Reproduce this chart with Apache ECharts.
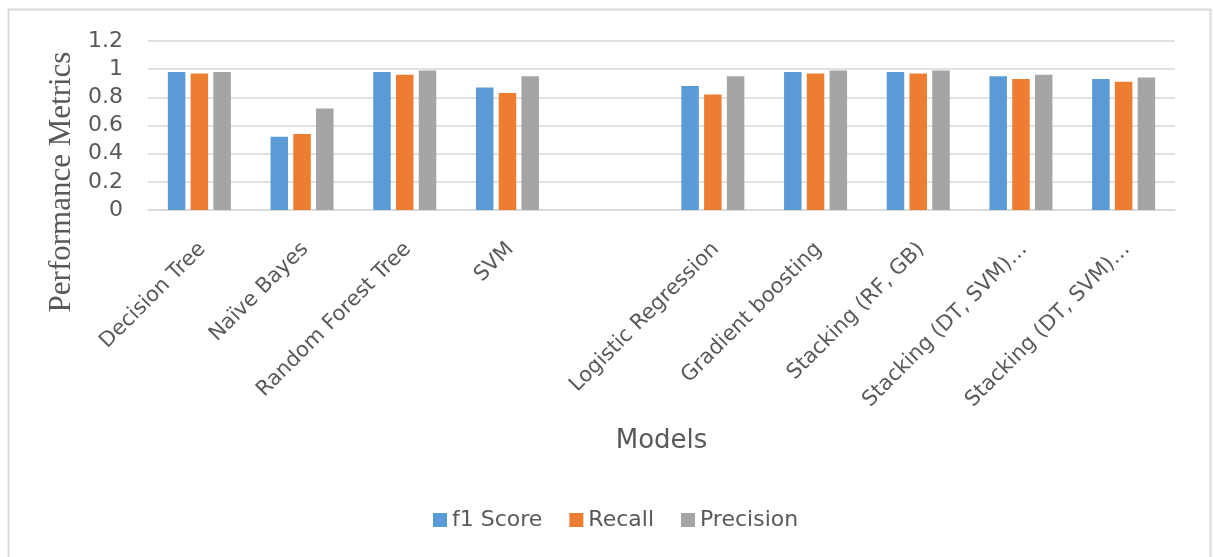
<!DOCTYPE html>
<html>
<head>
<meta charset="utf-8">
<script src="https://cdn.jsdelivr.net/npm/echarts@6/dist/echarts.min.js"></script>
<style>html,body{margin:0;padding:0;background:#fff;}#c{width:1213px;height:557px;}</style>
</head>
<body>
<div id="c"></div>
<script>
var categories = ["Decision Tree", "Naïve Bayes", "Random Forest Tree", "SVM", "", "Logistic Regression", "Gradient boosting", "Stacking (RF, GB)", "Stacking (DT, SVM)…", "Stacking (DT, SVM)…"];
var f1Score   = [0.98, 0.52, 0.98, 0.87, null, 0.88, 0.98, 0.98, 0.95, 0.93];
var recall    = [0.97, 0.54, 0.96, 0.83, null, 0.82, 0.97, 0.97, 0.93, 0.91];
var precision = [0.98, 0.72, 0.99, 0.95, null, 0.95, 0.99, 0.99, 0.96, 0.94];
var yTicks = [0, 0.2, 0.4, 0.6, 0.8, 1, 1.2];
var seriesNames = ['f1 Score', 'Recall', 'Precision'];
var yTitle = 'Performance Metrics';
var xTitle = 'Models';

var chart = echarts.init(document.getElementById('c'), null, {renderer: 'canvas'});
var sans = '"DejaVu Sans", "Open Sans", sans-serif';
var txt = '#595959';
function bar(name, data, color) {
  return {name: name, type: 'bar', data: data, barWidth: 17.5, barGap: '30%',
          xAxisIndex: 0, yAxisIndex: 0, itemStyle: {color: color}};
}
chart.setOption({
  animation: false,
  graphic: [
    {type: 'rect', left: 6, top: 7, shape: {width: 1202, height: 570},
     style: {fill: 'none', stroke: '#D9D9D9', lineWidth: 2}, silent: true},
    {type: 'text', x: 62, y: 182, rotation: Math.PI / 2,
     style: {text: yTitle, fill: txt, font: '31px "Liberation Serif", "DejaVu Serif", serif',
             textAlign: 'center', textVerticalAlign: 'middle'}}
  ],
  grid: [
    {left: 148, right: 38, top: 41, bottom: 347, outerBoundsMode: 'none', containLabel: false},
    {left: 151, right: 35, top: 41, bottom: 347, outerBoundsMode: 'none', containLabel: false}
  ],
  legend: {
    data: seriesNames,
    top: 504, left: 428, icon: 'rect', itemWidth: 14, itemHeight: 14, itemGap: 27,
    textStyle: {color: txt, fontSize: 22, fontFamily: sans}
  },
  xAxis: [{
    type: 'category', data: categories, gridIndex: 0,
    name: xTitle, nameLocation: 'middle', nameGap: 218,
    nameTextStyle: {color: txt, fontSize: 26, fontFamily: sans},
    axisLine: {lineStyle: {color: '#D9D9D9', width: 1.5}},
    axisTick: {show: false},
    axisLabel: {show: false}
  }, {
    type: 'category', data: categories, gridIndex: 1,
    axisLine: {show: false}, axisTick: {show: false}, splitLine: {show: false},
    axisLabel: {interval: 0, rotate: 45, color: txt, fontSize: 21, fontFamily: sans, margin: 36}
  }],
  yAxis: [{
    type: 'value', min: 0, max: 1.2, interval: 0.2, gridIndex: 0,
    axisLine: {show: false}, axisTick: {show: false},
    splitLine: {lineStyle: {color: '#D9D9D9', width: 1.5}},
    axisLabel: {color: txt, fontSize: 22, fontFamily: sans, margin: 25,
      formatter: function (v) { var r = Math.round(v * 10) / 10; return yTicks.indexOf(r) >= 0 ? String(r) : ''; }}
  }, {
    type: 'value', min: 0, max: 1.2, gridIndex: 1, show: false
  }],
  series: [bar(seriesNames[0], f1Score, '#5B9BD5'), bar(seriesNames[1], recall, '#ED7D31'), bar(seriesNames[2], precision, '#A5A5A5')]
});
</script>
</body>
</html>
